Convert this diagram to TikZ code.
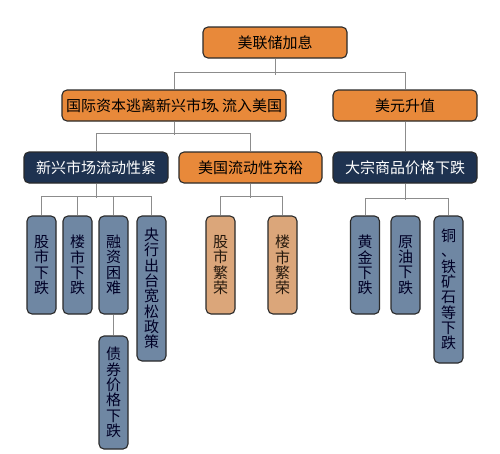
\documentclass[tikz,border=0pt]{standalone}
\usepackage{fontspec}
\setmainfont{Noto Sans CJK SC}
\definecolor{orng}{HTML}{E8893A}
\definecolor{navy}{HTML}{1E3250}
\definecolor{bgray}{HTML}{6F87A3}
\definecolor{tan}{HTML}{DBA67A}
\definecolor{edge}{HTML}{2A2A2A}
\definecolor{wire}{HTML}{8C8C8C}
\begin{document}
\begin{tikzpicture}[x=1pt,y=-1pt,
  box/.style={draw=edge,line width=1.1pt,rounded corners=5pt,inner sep=0pt,
    font=\fontsize{15}{15}\selectfont},
  hbox/.style={box,minimum height=31pt},
  obox/.style={hbox,fill=orng,text=black},
  nbox/.style={hbox,fill=navy,text=white},
  vbox/.style={box,minimum width=29pt,align=center,
    font=\fontsize{15}{15.3}\selectfont},
  gbox/.style={vbox,fill=bgray,text=black!85!blue},
  tbox/.style={vbox,fill=tan,text=black!80!brown},
  wire/.style={draw=wire,line width=0.9pt}]
\useasboundingbox (0,0) rectangle (500,453);
\fill[white] (0,0) rectangle (500,453);
% level 0
\node[obox,minimum width=144pt] (top) at (275,42.5) {美联储加息};
% level 1
\node[obox,minimum width=224pt] (capital) at (174,105.5) {国际资本逃离新兴市场\kern-0.15em、\kern-0.45em流入美国};
\node[obox,minimum width=144pt] (usd) at (405,105.5) {美元升值};
% level 2
\node[nbox,minimum width=144pt] (tight) at (96,167.5) {新兴市场流动性紧};
\node[obox,minimum width=143pt] (ample) at (250.5,167.5) {美国流动性充裕};
\node[nbox,minimum width=144pt] (commod) at (405,167.5) {大宗商品价格下跌};
% level 3
\node[gbox,minimum height=98pt] (stock) at (41.5,265) {股\\市\\下\\跌};
\node[gbox,minimum height=98pt] (house) at (77.5,265) {楼\\市\\下\\跌};
\node[gbox,minimum height=98pt] (fin) at (113.5,265) {融\\资\\困\\难};
\node[gbox,minimum height=145pt] (cb) at (151.5,288.5) {央\\行\\出\\台\\宽\\松\\政\\策};
\node[gbox,minimum height=113pt] (bond) at (113.5,392.5) {债\\券\\价\\格\\下\\跌};
\node[tbox,minimum height=98pt] (sboom) at (220.5,265) {股\\市\\繁\\荣};
\node[tbox,minimum height=98pt] (hboom) at (282.5,265) {楼\\市\\繁\\荣};
\node[gbox,minimum height=98pt] (gold) at (365,265) {黄\\金\\下\\跌};
\node[gbox,minimum height=98pt] (oil) at (405.5,265) {原\\油\\下\\跌};
\node[gbox,minimum height=147pt] (metal) at (448.5,289.5) {铜\\、\\铁\\矿\\石\\等\\下\\跌};
% connectors
\draw[wire] (top.south) -- ++(0,16);
\draw[wire] (capital.north) -- ++(0,-17) -| (usd.north);
\draw[wire] (capital.south) -- ++(0,13);
\draw[wire] (tight.north) -- ++(0,-18) -| (ample.north);
\draw[wire] (usd.south) -- (commod.north);
\draw[wire] (tight.south) -- ++(0,14);
\draw[wire] (stock.north) -- ++(0,-19) -| (cb.north);
\draw[wire] (house.north) -- ++(0,-19);
\draw[wire] (fin.north) -- ++(0,-19);
\draw[wire] (fin.south) -- (bond.north);
\draw[wire] (ample.south) -- ++(0,14);
\draw[wire] (sboom.north) -- ++(0,-19) -| (hboom.north);
\draw[wire] (commod.south) -- ++(0,16);
\draw[wire] (gold.north) -- ++(0,-17) -| (metal.north);
\end{tikzpicture}
\end{document}
